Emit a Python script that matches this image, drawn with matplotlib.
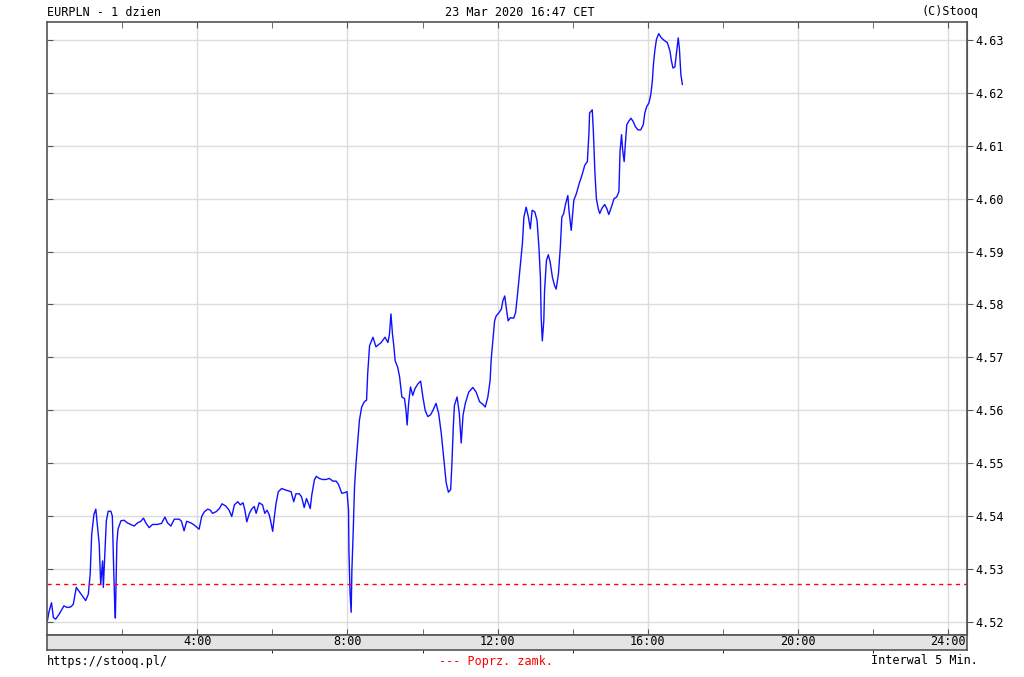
import matplotlib
matplotlib.use("Agg")
import matplotlib.pyplot as plt

# EURPLN intraday, 23 Mar 2020 (hours since midnight, price)
hours = [0.01, 0.05, 0.12, 0.17, 0.23, 0.32, 0.45, 0.54, 0.63, 0.70, 0.78, 0.85, 0.94, 1.03, 1.10,
         1.15, 1.19, 1.25, 1.30, 1.34, 1.39, 1.43, 1.48, 1.50, 1.54, 1.58, 1.63, 1.70, 1.74, 1.77,
         1.80, 1.82, 1.86, 1.89, 1.97, 2.05, 2.14, 2.23, 2.32, 2.41, 2.50, 2.57, 2.63, 2.72, 2.81,
         2.94, 3.05, 3.14, 3.21, 3.30, 3.39, 3.52, 3.58, 3.65, 3.72, 3.83, 3.92, 4.05, 4.12, 4.19,
         4.28, 4.35, 4.41, 4.50, 4.59, 4.66, 4.76, 4.85, 4.92, 4.99, 5.08, 5.15, 5.22, 5.27, 5.32,
         5.39, 5.45, 5.52, 5.57, 5.65, 5.74, 5.80, 5.86, 5.92, 5.96, 6.01, 6.05, 6.10, 6.16, 6.25,
         6.36, 6.50, 6.57, 6.63, 6.72, 6.78, 6.85, 6.91, 6.96, 7.01, 7.05, 7.12, 7.17, 7.25, 7.34,
         7.43, 7.52, 7.61, 7.70, 7.76, 7.85, 7.92, 7.99, 8.03, 8.04, 8.07, 8.10, 8.12, 8.15, 8.19,
         8.23, 8.28, 8.32, 8.38, 8.45, 8.51, 8.54, 8.59, 8.68, 8.76, 8.90, 9.00, 9.08, 9.12, 9.16,
         9.20, 9.24, 9.27, 9.34, 9.39, 9.45, 9.52, 9.56, 9.59, 9.63, 9.68, 9.74, 9.80, 9.88, 9.95,
         10.01, 10.07, 10.14, 10.21, 10.28, 10.36, 10.43, 10.50, 10.57, 10.63, 10.69, 10.75, 10.78,
         10.82, 10.85, 10.92, 10.98, 11.03, 11.08, 11.14, 11.23, 11.34, 11.43, 11.52, 11.61, 11.67,
         11.74, 11.80, 11.83, 11.88, 11.92, 11.96, 12.04, 12.10, 12.14, 12.19, 12.23, 12.28, 12.34,
         12.43, 12.48, 12.54, 12.60, 12.66, 12.70, 12.76, 12.82, 12.87, 12.92, 12.99, 13.05, 13.10,
         13.14, 13.16, 13.19, 13.23, 13.25, 13.30, 13.35, 13.40, 13.46, 13.52, 13.56, 13.62, 13.67,
         13.71, 13.76, 13.81, 13.87, 13.90, 13.96, 13.99, 14.03, 14.10, 14.17, 14.25, 14.32, 14.39,
         14.43, 14.45, 14.52, 14.55, 14.59, 14.63, 14.68, 14.72, 14.78, 14.85, 14.91, 14.96, 15.03,
         15.10, 15.17, 15.23, 15.26, 15.30, 15.33, 15.37, 15.40, 15.44, 15.49, 15.55, 15.61, 15.67,
         15.74, 15.81, 15.88, 15.92, 15.97, 16.03, 16.08, 16.12, 16.15, 16.19, 16.23, 16.29, 16.36,
         16.44, 16.52, 16.59, 16.63, 16.67, 16.72, 16.76, 16.81, 16.84, 16.88, 16.92]
prices = [4.5202, 4.5218, 4.5236, 4.5208, 4.5205, 4.5214, 4.5230, 4.5227, 4.5228, 4.5233, 4.5265,
          4.5258, 4.5249, 4.5240, 4.5252, 4.5290, 4.5365, 4.5403, 4.5413, 4.5384, 4.5347, 4.5271,
          4.5315, 4.5265, 4.5328, 4.5391, 4.5409, 4.5409, 4.5400, 4.5315, 4.5240, 4.5207, 4.5347,
          4.5375, 4.5391, 4.5392, 4.5387, 4.5384, 4.5381, 4.5387, 4.5390, 4.5396, 4.5387, 4.5378,
          4.5384, 4.5384, 4.5386, 4.5398, 4.5387, 4.5381, 4.5394, 4.5394, 4.5390, 4.5372, 4.5390,
          4.5387, 4.5383, 4.5375, 4.5399, 4.5408, 4.5413, 4.5411, 4.5405, 4.5408, 4.5414, 4.5423,
          4.5419, 4.5411, 4.5399, 4.5421, 4.5427, 4.5421, 4.5425, 4.5411, 4.5389, 4.5405, 4.5413,
          4.5418, 4.5405, 4.5425, 4.5421, 4.5405, 4.5411, 4.5402, 4.5389, 4.5371, 4.5396, 4.5424,
          4.5446, 4.5452, 4.5449, 4.5446, 4.5427, 4.5442, 4.5442, 4.5436, 4.5416, 4.5433, 4.5424,
          4.5414, 4.5439, 4.5468, 4.5475, 4.5471, 4.5469, 4.5469, 4.5471, 4.5466, 4.5466, 4.5460,
          4.5443, 4.5444, 4.5446, 4.5411, 4.5336, 4.5255, 4.5218, 4.5299, 4.5360, 4.5456, 4.5500,
          4.5544, 4.5581, 4.5606, 4.5616, 4.5619, 4.5669, 4.5722, 4.5738, 4.5720, 4.5728, 4.5738,
          4.5728, 4.5744, 4.5782, 4.5744, 4.5719, 4.5694, 4.5681, 4.5663, 4.5625, 4.5622, 4.5600,
          4.5572, 4.5613, 4.5644, 4.5628, 4.5641, 4.5650, 4.5655, 4.5625, 4.5600, 4.5588, 4.5591,
          4.5600, 4.5613, 4.5594, 4.5556, 4.5506, 4.5463, 4.5445, 4.5450, 4.5494, 4.5569, 4.5609,
          4.5625, 4.5594, 4.5538, 4.5591, 4.5613, 4.5634, 4.5643, 4.5634, 4.5616, 4.5611, 4.5606,
          4.5625, 4.5656, 4.5697, 4.5738, 4.5769, 4.5778, 4.5785, 4.5791, 4.5807, 4.5816, 4.5794,
          4.5769, 4.5775, 4.5774, 4.5785, 4.5826, 4.5870, 4.5915, 4.5965, 4.5984, 4.5965, 4.5943,
          4.5978, 4.5975, 4.5959, 4.5908, 4.5851, 4.5775, 4.5731, 4.5769, 4.5826, 4.5883, 4.5894,
          4.5880, 4.5851, 4.5835, 4.5829, 4.5858, 4.5908, 4.5965, 4.5972, 4.5990, 4.6006, 4.5978,
          4.5940, 4.5965, 4.5997, 4.6010, 4.6028, 4.6045, 4.6063, 4.6070, 4.6121, 4.6162, 4.6168,
          4.6127, 4.6051, 4.6000, 4.5981, 4.5972, 4.5982, 4.5989, 4.5981, 4.5970, 4.5984, 4.6000,
          4.6003, 4.6013, 4.6089, 4.6121, 4.6092, 4.6070, 4.6102, 4.6140, 4.6146, 4.6152, 4.6146,
          4.6136, 4.6130, 4.6130, 4.6140, 4.6162, 4.6174, 4.6181, 4.6197, 4.6222, 4.6254, 4.6282,
          4.6301, 4.6312, 4.6304, 4.6299, 4.6295, 4.6279, 4.6260, 4.6247, 4.6249, 4.6273, 4.6304,
          4.6285, 4.6235, 4.6216]
prev_close = 4.5272

grid_hours = [4, 8, 12, 16, 20, 24]
minor_hours = [2, 6, 10, 14, 18, 22]
hour_labels = ["4:00", "8:00", "12:00", "16:00", "20:00", "24:00"]
price_ticks = [4.52, 4.53, 4.54, 4.55, 4.56, 4.57, 4.58, 4.59, 4.60, 4.61, 4.62, 4.63]

font = "DejaVu Sans Mono"
fs = 8.5
frame_col = "#555555"

fig = plt.figure(figsize=(10.24, 6.77), dpi=100)
fig.patch.set_facecolor("white")

left, right = 47 / 1024, 967 / 1024
ax = fig.add_axes([left, 1 - 635 / 677, right - left, (635 - 22) / 677])
strip = fig.add_axes([left, 1 - 650 / 677, right - left, 15 / 677], sharex=ax)

ax.plot(hours, prices, color="#1010ff", lw=1.0)
ax.axhline(prev_close, color="#ff0000", lw=1.0, ls=(0, (3, 3)))

ax.set_xlim(0, 24.5)
ax.set_ylim(4.5175, 4.6334)

ax.set_xticks(grid_hours)
ax.set_xticks(minor_hours, minor=True)
ax.set_yticks(price_ticks)
ax.grid(True, which="major", color="#dddddd", lw=1.0)
ax.tick_params(axis="x", which="both", direction="in", top=True, bottom=True,
               labelbottom=False, length=4, color=frame_col)
ax.tick_params(axis="y", direction="in", left=True, right=False, labelleft=False,
               length=4, color=frame_col)
for s in ax.spines.values():
    s.set_color(frame_col)
    s.set_linewidth(1.2)

# price labels on the right, ticks pointing out
sec = ax.secondary_yaxis("right")
sec.set_yticks(price_ticks)
sec.set_yticklabels([f"{p:.2f}" for p in price_ticks], fontfamily=font, fontsize=fs)
sec.tick_params(direction="out", length=4, pad=2, color=frame_col)
sec.spines["right"].set_color(frame_col)

# grey band with the hour labels
strip.set_facecolor("#e4e4e4")
strip.set_yticks([])
strip.set_xticks(grid_hours)
strip.set_xticklabels(hour_labels, fontfamily=font, fontsize=fs)
strip.tick_params(axis="x", length=0, pad=-11)
for s in strip.spines.values():
    s.set_color(frame_col)
    s.set_linewidth(1.2)

y_top = 1 - 12 / 677
fig.text(left, y_top, "EURPLN - 1 dzien", ha="left", va="center", fontfamily=font, fontsize=fs)
fig.text(0.508, y_top, "23 Mar 2020 16:47 CET", ha="center", va="center", fontfamily=font, fontsize=fs)
fig.text(978 / 1024, y_top, "(C)Stooq", ha="right", va="center", fontfamily=font, fontsize=fs)

y_bot = 1 - 661 / 677
fig.text(left, y_bot, "https://stooq.pl/", ha="left", va="center", fontfamily=font, fontsize=fs)
fig.text(0.484, y_bot, "--- Poprz. zamk.", ha="center", va="center", fontfamily=font,
         fontsize=fs, color="#ff0000")
fig.text(978 / 1024, y_bot, "Interwal 5 Min.", ha="right", va="center", fontfamily=font, fontsize=fs)

fig.savefig("out.png", dpi=100, facecolor="white")
